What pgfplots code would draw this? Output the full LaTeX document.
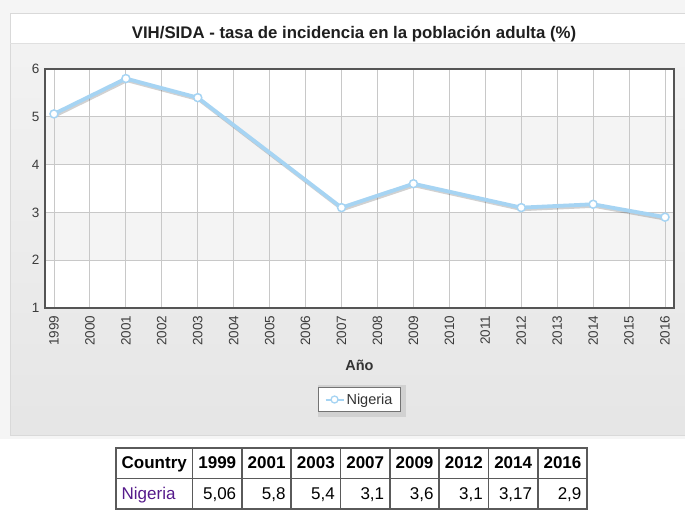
\documentclass[border=0pt]{standalone}
\usepackage{fontspec}
\setmainfont{Liberation Sans}
\usepackage{pgfplots}
\pgfplotsset{compat=1.18}
\usepackage{colortbl}
\definecolor{linecol}{RGB}{166,212,243}
\definecolor{bandcol}{RGB}{244,244,244}
\definecolor{gridcol}{RGB}{200,200,200}
\definecolor{framecol}{RGB}{85,85,85}
\definecolor{tickcol}{RGB}{60,60,60}
\definecolor{visited}{RGB}{85,26,139}
\definecolor{rulecol}{RGB}{90,90,90}
\newcommand{\tkf}{\fontsize{13.5}{15}\selectfont}
\begin{document}
\begin{tikzpicture}[x=1pt,y=1pt]
\useasboundingbox (0,0) rectangle (685,513);
\fill[white] (0,0) rectangle (685,513);
\fill[black!4] (0,74) rectangle (685,513);
\fill[white] (10,469) rectangle (685,499);
\shade[top color=black!5, bottom color=black!10] (10,77) rectangle (685,469);
\draw[black!15, line width=1pt] (10,77) rectangle (686,499);
\draw[black!12, line width=1pt] (10,469) -- (685,469);
\node[anchor=base, font=\bfseries\fontsize{16.8}{19}\selectfont, text=black!88] at (354,474.7)
  {VIH/SIDA - tasa de incidencia en la población adulta (\%)};
% plot area background and bands
\fill[white] (45,205) rectangle (674,444);
\fill[bandcol] (45,348.4) rectangle (674,396.2);
\fill[bandcol] (45,252.8) rectangle (674,300.6);
% legend shadow
\fill[black!18] (318,95.5) rectangle (406,128);
\begin{axis}[
  at={(45pt,205pt)}, anchor=south west,
  scale only axis, width=629pt, height=239pt,
  xmin=1998.75, xmax=2016.25, ymin=1, ymax=6,
  xtick={1999,2000,2001,2002,2003,2004,2005,2006,2007,2008,2009,2010,2011,2012,2013,2014,2015,2016},
  xticklabels={1999,2000,2001,2002,2003,2004,2005,2006,2007,2008,2009,2010,2011,2012,2013,2014,2015,2016},
  ytick={1,2,3,4,5,6},
  yticklabels={1,2,3,4,5,6},
  major tick length=0pt,
  grid=major,
  major grid style={gridcol, line width=0.9pt},
  axis line style={framecol, line width=1.8pt},
  xticklabel style={font=\tkf, text=tickcol, rotate=90, anchor=east},
  yticklabel style={font=\tkf, text=tickcol},
  xticklabel shift=4pt,
  yticklabel shift=2pt,
  xlabel={\textbf{Año}},
  xlabel style={at={(axis description cs:0.5,-0.238)}, anchor=center, font=\fontsize{14.5}{16}\selectfont, text=black!80},
  legend style={at={(0.5,-0.383)}, anchor=center, draw=black!55, line width=0.8pt, fill=white,
    font=\fontsize{14.5}{16}\selectfont, text=black!80, inner xsep=6pt, inner ysep=4pt},
  legend image code/.code={\draw[linecol, line width=2pt] (0pt,0pt) -- (18pt,0pt);
     \draw[linecol, fill=white, line width=1.3pt] (9pt,0pt) circle (3.5pt);},
]
\addplot[black, opacity=0.18, line width=3.5pt, forget plot, xshift=1pt, yshift=-1.8pt]
  coordinates {(1999,5.06) (2001,5.8) (2003,5.4) (2007,3.1) (2009,3.6) (2012,3.1) (2014,3.17) (2016,2.9)};
\addplot[linecol, line width=3.8pt, mark=*, mark size=4pt,
  mark options={fill=white, draw=linecol, line width=1.5pt}]
  coordinates {(1999,5.06) (2001,5.8) (2003,5.4) (2007,3.1) (2009,3.6) (2012,3.1) (2014,3.17) (2016,2.9)};
\addlegendentry{Nigeria}
\end{axis}
\node[anchor=north west, inner sep=0pt] at (115,66) {%
  \fontsize{17}{20}\selectfont
  \setlength{\arrayrulewidth}{1.5pt}\arrayrulecolor{rulecol}%
  \setlength{\tabcolsep}{5pt}\renewcommand{\arraystretch}{1.45}%
  \begin{tabular}{|l|r|r|r|r|r|r|r|r|}
  \hline
  \textbf{Country} & \textbf{1999} & \textbf{2001} & \textbf{2003} & \textbf{2007} & \textbf{2009} & \textbf{2012} & \textbf{2014} & \textbf{2016}\\ \hline
  \textcolor{visited}{Nigeria} & 5,06 & 5,8 & 5,4 & 3,1 & 3,6 & 3,1 & 3,17 & 2,9\\ \hline
  \end{tabular}};
\end{tikzpicture}
\end{document}
